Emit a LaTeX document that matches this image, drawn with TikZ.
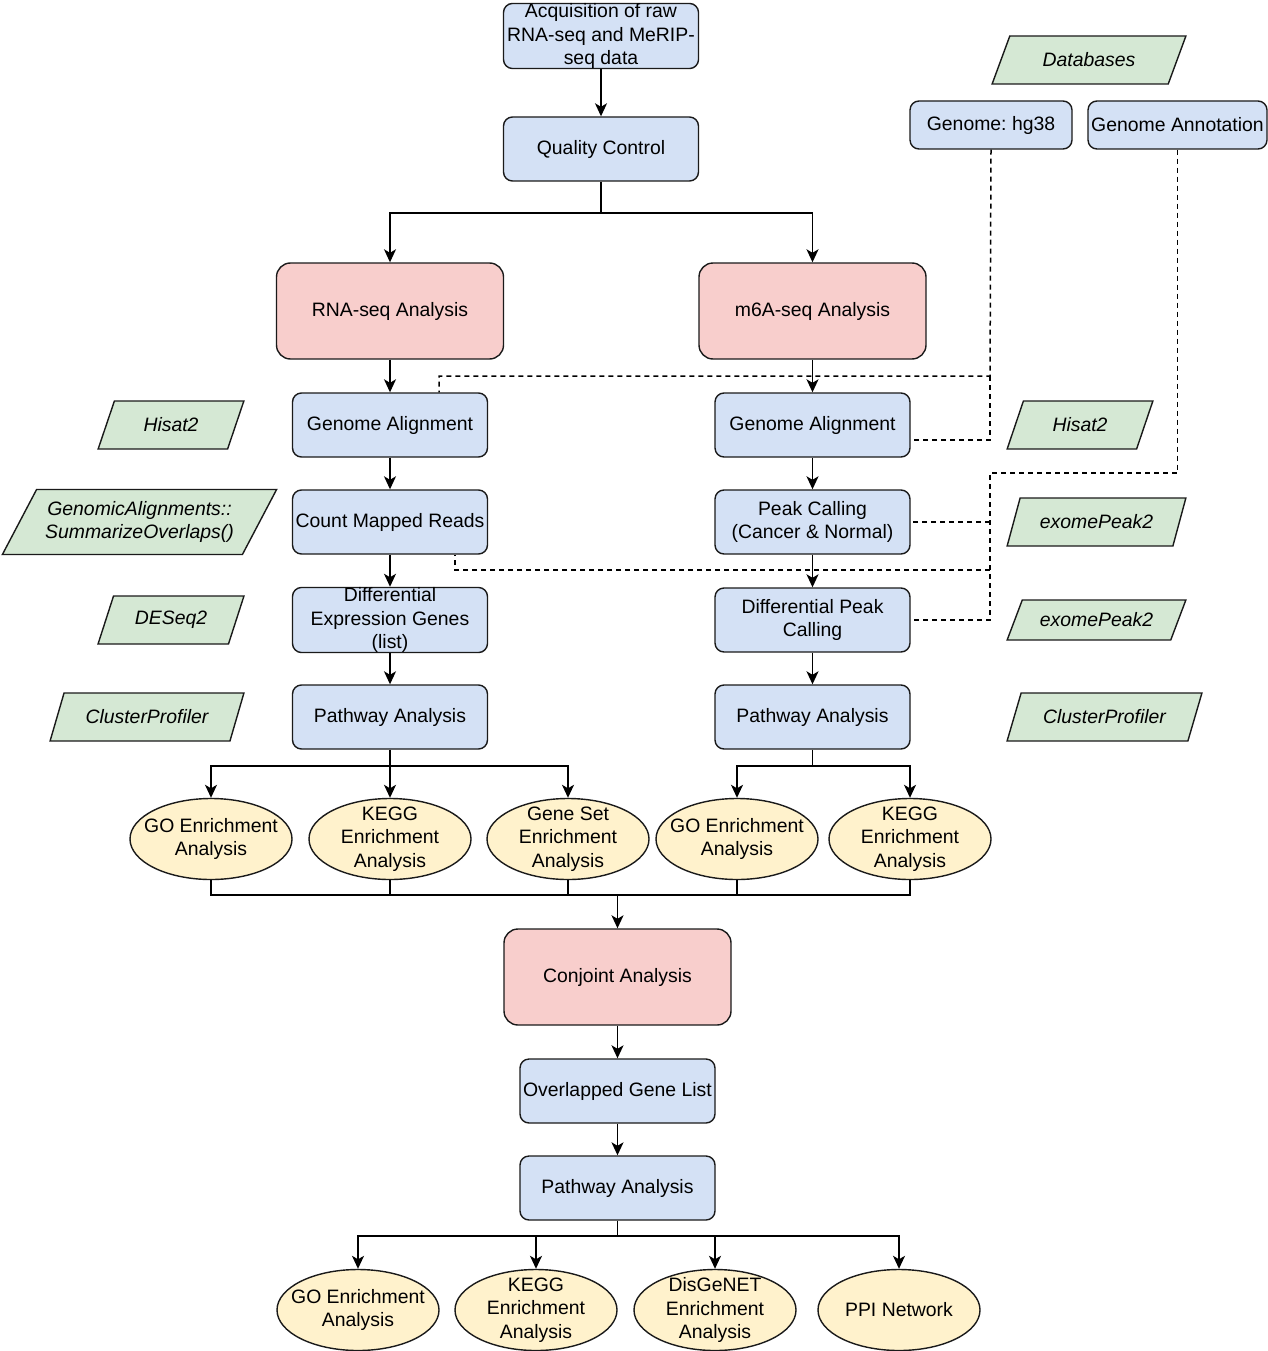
\documentclass[tikz,border=0pt]{standalone}
\usepackage{fontspec}
\setmainfont{Liberation Sans}
\usetikzlibrary{shapes.geometric,arrows.meta,calc}
\definecolor{bfill}{HTML}{D4E1F5}
\definecolor{pfill}{HTML}{F8CECC}
\definecolor{yfill}{HTML}{FFF2CC}
\definecolor{gfill}{HTML}{D5E8D4}
\definecolor{edge}{HTML}{1A1A1A}
\frenchspacing
\begin{document}
\begin{tikzpicture}[x=1pt,y=-1pt,
  every node/.style={font=\fontsize{19.4}{23.5}\selectfont, align=center, inner sep=0pt},
  box/.style={draw=edge, line width=1.4pt, fill=bfill, rounded corners=9pt, minimum width=195pt, minimum height=64pt},
  bigbox/.style={draw=edge, line width=1.4pt, fill=pfill, rounded corners=14pt, minimum width=227pt, minimum height=96pt},
  oval/.style={ellipse, draw=edge, line width=1.4pt, fill=yfill, minimum width=162pt, minimum height=81pt, inner xsep=-35pt, inner ysep=-28pt},
  tool/.style={trapezium, trapezium stretches=true, draw=edge, line width=1.4pt, fill=gfill, minimum height=48pt, font=\fontsize{19.4}{23.5}\selectfont\itshape},
  arr/.style={line width=1.5pt, draw=black, -{Stealth[length=13pt,width=12pt,inset=3.5pt]}},
  ln/.style={line width=1.5pt, draw=black},
  dsh/.style={line width=1.5pt, draw=black, dash pattern=on 5pt off 4pt}
]
\useasboundingbox (0,0) rectangle (1268,1351);

% main column
\node[box] (acq) at (601,36) {Acquisition of raw\\RNA-seq and MeRIP-\\seq data};
\node[box] (qc) at (601,149) {Quality Control};
\node[bigbox] (rna) at (390,311) {RNA-seq Analysis};
\node[bigbox] (m6a) at (812.5,311) {m6A-seq Analysis};

\node[box] (ga1) at (390,425) {Genome Alignment};
\node[box] (cmr) at (390,522) {Count Mapped Reads};
\node[box] (deg) at (390,620) {Differential\\Expression Genes\\(list)};
\node[box] (pa1) at (390,717) {Pathway Analysis};

\node[box] (ga2) at (812.5,425) {Genome Alignment};
\node[box] (pc) at (812.5,522) {Peak Calling\\(Cancer \& Normal)};
\node[box] (dpc) at (812.5,620) {Differential Peak\\Calling};
\node[box] (pa2) at (812.5,717) {Pathway Analysis};

\node[oval] (go1) at (211,839) {GO Enrichment\\Analysis};
\node[oval] (kg1) at (390,839) {KEGG\\Enrichment\\Analysis};
\node[oval] (gs) at (568,839) {Gene Set\\Enrichment\\Analysis};
\node[oval] (go2) at (737,839) {GO Enrichment\\Analysis};
\node[oval] (kg2) at (910,839) {KEGG\\Enrichment\\Analysis};

\node[bigbox] (conj) at (617.5,977) {Conjoint Analysis};
\node[box] (ogl) at (617.5,1091) {Overlapped Gene List};
\node[box] (pa3) at (617.5,1188) {Pathway Analysis};

\node[oval] (r1) at (358,1310) {GO Enrichment\\Analysis};
\node[oval] (r2) at (536,1310) {KEGG\\Enrichment\\Analysis};
\node[oval] (r3) at (715,1310) {DisGeNET\\Enrichment\\Analysis};
\node[oval] (r4) at (899,1310) {PPI Network};

% databases
\node[tool, minimum width=194pt, trapezium left angle=54, trapezium right angle=126] (db) at (1089,60) {Databases};
\node[box, minimum width=162pt, minimum height=48pt] (hg) at (991,125) {Genome: hg38};
\node[box, minimum width=179pt, minimum height=48pt] (gan) at (1177.5,125) {Genome Annotation};

% tools
\node[tool, minimum width=146pt, trapezium left angle=61, trapezium right angle=119] (t1) at (171,425) {Hisat2};
\node[tool, minimum width=275pt, minimum height=65pt, trapezium left angle=53, trapezium right angle=127] (t2) at (139.5,522) {GenomicAlignments::\\SummarizeOverlaps()};
\node[tool, minimum width=146pt, trapezium left angle=61, trapezium right angle=119] (t3) at (171,620) {DESeq2};
\node[tool, minimum width=194pt, trapezium left angle=54, trapezium right angle=126] (t4) at (147,717) {ClusterProfiler};

\node[tool, minimum width=146pt, trapezium left angle=61, trapezium right angle=119] (t5) at (1080,425) {Hisat2};
\node[tool, minimum width=179pt, trapezium left angle=56, trapezium right angle=124] (t6) at (1096.5,522) {exomePeak2};
\node[tool, minimum width=179pt, minimum height=40pt, trapezium left angle=51, trapezium right angle=129] (t7) at (1096.5,620) {exomePeak2};
\node[tool, minimum width=195pt, trapezium left angle=54, trapezium right angle=126] (t8) at (1104.5,717) {ClusterProfiler};

% solid connectors
\draw[arr] (acq) -- (qc);
\coordinate (s1) at (601,213);
\draw[ln] (qc.south) -- (s1);
\draw[arr] (s1) -| (rna.north);
\draw[arr] (s1) -| (m6a.north);

\draw[arr] (rna) -- (ga1);
\draw[arr] (ga1) -- (cmr);
\draw[arr] (cmr) -- (deg);
\draw[arr] (deg) -- (pa1);
\draw[arr] (m6a) -- (ga2);
\draw[arr] (ga2) -- (pc);
\draw[arr] (pc) -- (dpc);
\draw[arr] (dpc) -- (pa2);

\coordinate (b1) at (390,766);
\draw[ln] (pa1.south) -- (b1);
\draw[arr] (b1) -| (go1.north);
\draw[arr] (b1) -- (kg1.north);
\draw[arr] (b1) -| (gs.north);
\coordinate (b2) at (812.5,766);
\draw[ln] (pa2.south) -- (b2);
\draw[arr] (b2) -| (go2.north);
\draw[arr] (b2) -| (kg2.north);

\coordinate (j2) at (617.5,895);
\draw[ln] (go1.south) -- (go1.south |- j2) -- (kg2.south |- j2) -- (kg2.south);
\draw[ln] (kg1.south) -- (kg1.south |- j2);
\draw[ln] (gs.south) -- (gs.south |- j2);
\draw[ln] (go2.south) -- (go2.south |- j2);
\draw[arr] (j2) -- (conj.north);

\draw[arr] (conj) -- (ogl);
\draw[arr] (ogl) -- (pa3);

\coordinate (j3) at (617.5,1236);
\draw[ln] (pa3.south) -- (j3);
\draw[arr] (j3) -| (r1.north);
\draw[arr] (j3) -| (r2.north);
\draw[arr] (j3) -| (r3.north);
\draw[arr] (j3) -| (r4.north);

% dashed connectors
\coordinate (h1) at (990,376);
\coordinate (h2) at (990,440);
\draw[dsh] (hg.south) -- (h1) -| ([xshift=49pt]ga1.north);
\draw[dsh] (h1) -- (h2) -- ([yshift=-15pt]ga2.east);

\coordinate (k1) at (990,473);
\coordinate (k2) at (990,522);
\coordinate (k3) at (990,570);
\coordinate (k4) at (990,620);
\draw[dsh] (gan.south) |- (k1) -- (k4) -- (dpc.east);
\draw[dsh] (k2) -- (pc.east);
\draw[dsh] (k3) -| ([xshift=65pt]cmr.south);
\end{tikzpicture}
\end{document}
